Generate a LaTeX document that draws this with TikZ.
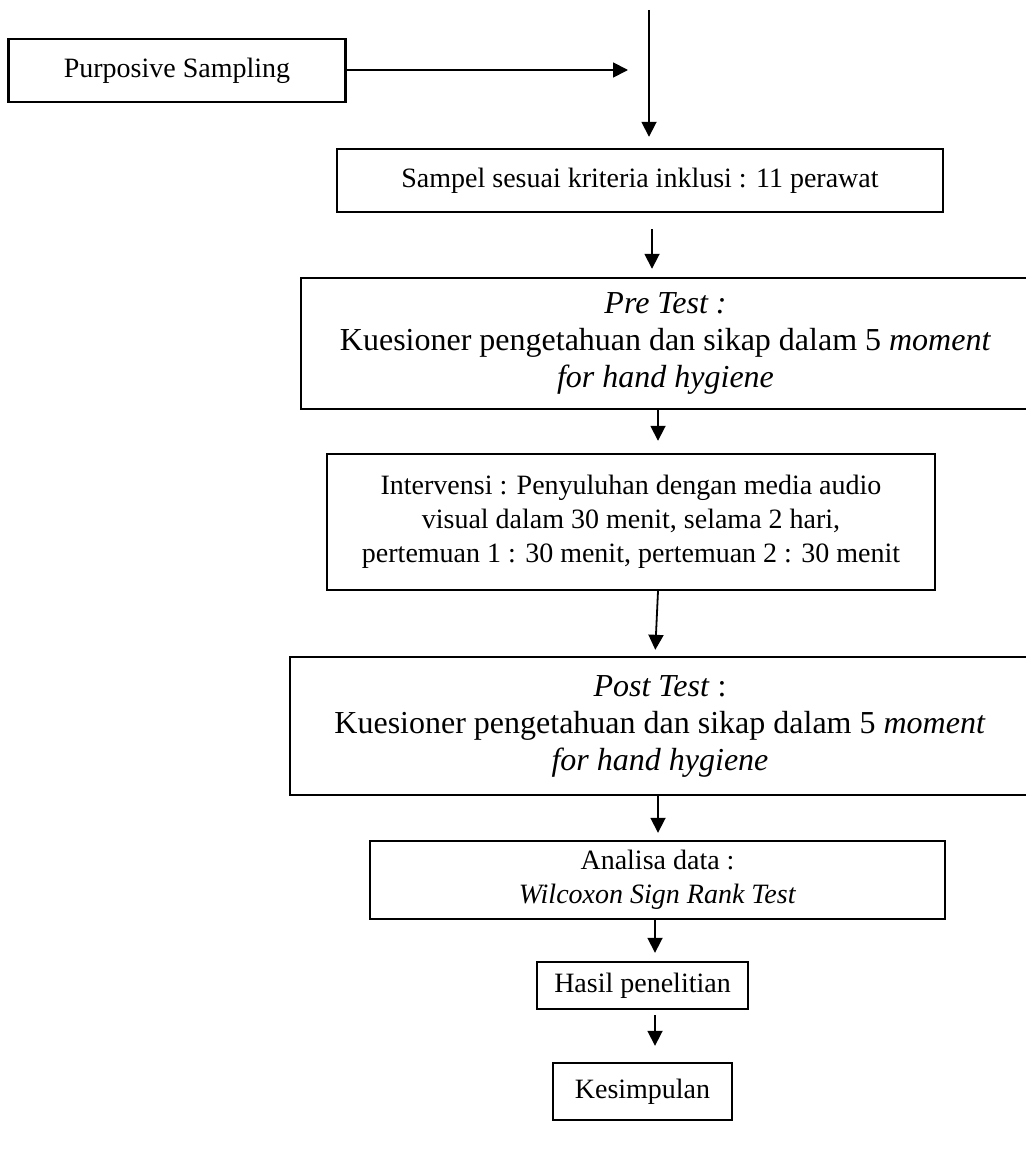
\documentclass[tikz,border=0pt]{standalone}
\usepackage{fontspec}
\setmainfont{Liberation Serif}
\usetikzlibrary{arrows.meta}
\tikzstyle{box} = [rectangle, draw=black, line width=1.2pt, align=center, inner sep=0pt, font=\fontsize{14}{17}\selectfont]
\tikzstyle{bigbox} = [box, font=\fontsize{16}{18.5}\selectfont]
\tikzstyle{arrow} = [line width=0.9pt, -{Triangle[length=7.5pt, width=7.5pt]}]
\begin{document}
\begin{tikzpicture}[x=0.5pt, y=-0.5pt]
            \useasboundingbox (0,0) rectangle (1025,1150);
            \node[box, minimum width=168.5pt, minimum height=31.5pt] (purposive) at (177,70.5) {Purposive Sampling};
            \node[box, minimum width=303pt, minimum height=31.5pt] (sampel) at (640,180.5) {Sampel sesuai kriteria inklusi : 11 perawat};
            \node[bigbox, minimum width=364.5pt, minimum height=65.5pt] (pretest) at (665.5,343.5) {\textit{Pre Test :}\\Kuesioner pengetahuan dan sikap dalam 5 \textit{moment}\\\textit{for hand hygiene}};
            \node[box, minimum width=304pt, minimum height=68pt] (interv) at (631,522) {Intervensi : Penyuluhan dengan media audio\\visual dalam 30 menit, selama 2 hari,\\pertemuan 1 : 30 menit, pertemuan 2 : 30 menit};
            \node[bigbox, minimum width=370pt, minimum height=69pt] (posttest) at (660,726) {\textit{Post Test} :\\Kuesioner pengetahuan dan sikap dalam 5 \textit{moment}\\\textit{for hand hygiene}};
            \node[box, minimum width=287.5pt, minimum height=39pt] (analisa) at (657.5,880) {Analisa data :\\\textit{Wilcoxon Sign Rank Test}};
            \node[box, minimum width=105.5pt, minimum height=23.5pt] (hasil) at (642.5,985.5) {Hasil penelitian};
            \node[box, minimum width=89.5pt, minimum height=28.5pt] (kesimpulan) at (642.5,1091.5) {Kesimpulan};
            % free ends of the two top connectors
            \coordinate (top) at (649,10);
            \coordinate (join) at (628,70);
            \draw[arrow] (purposive.east |- join) -- (join);
            \draw[arrow, shorten >=5.5pt] (top) -- (sampel.north -| top);
            \draw[arrow, shorten <=8pt, shorten >=4pt] (sampel.south -| 652,0) -- (pretest.north -| 652,0);
            \draw[arrow, shorten >=6pt] (pretest.south -| 658,0) -- (interv.north -| 658,0);
            \draw[arrow, shorten >=3pt] (interv.south -| 658,0) -- (posttest.north -| 655,0);
            \draw[arrow, shorten >=3.5pt] (posttest.south -| 658,0) -- (analisa.north -| 658,0);
            \draw[arrow, shorten >=4pt] (analisa.south -| 655,0) -- (hasil.north -| 655,0);
            \draw[arrow, shorten <=2.5pt, shorten >=8pt] (hasil.south -| 655,0) -- (kesimpulan.north -| 655,0);
        \end{tikzpicture}
\end{document}
